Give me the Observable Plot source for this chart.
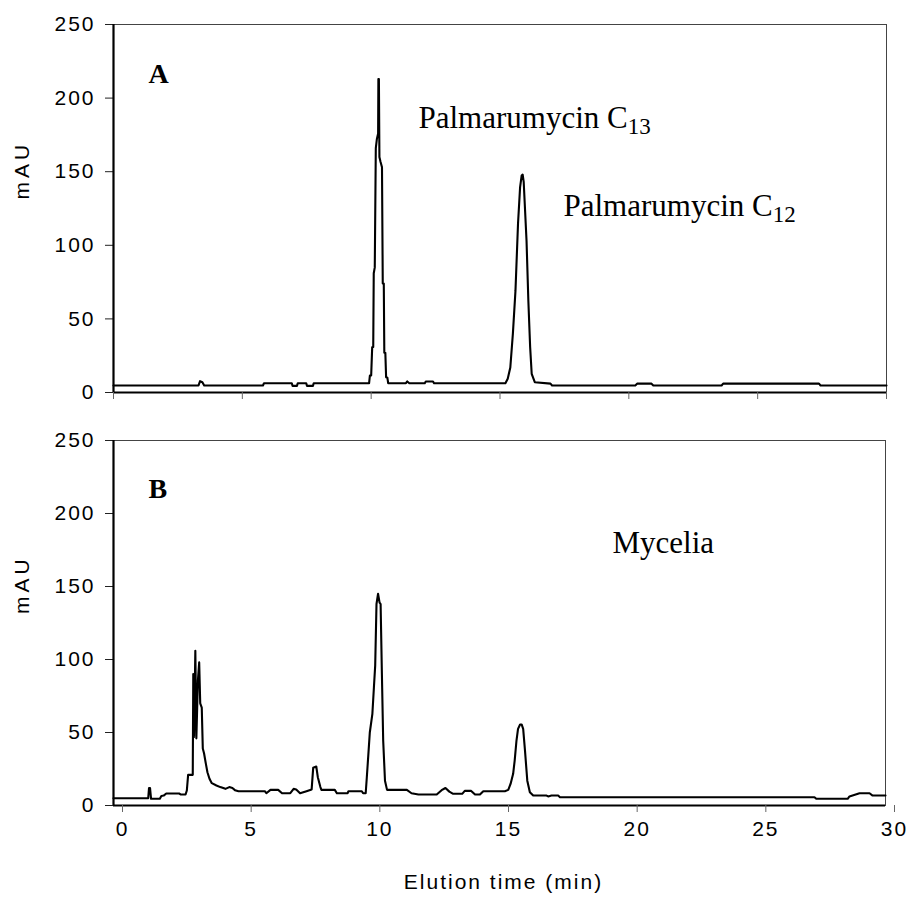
<!DOCTYPE html>
<html><head><meta charset="utf-8">
<script src="https://cdn.jsdelivr.net/npm/d3@7"></script>
<script src="https://cdn.jsdelivr.net/npm/@observablehq/plot@0.6"></script>
<style>
body{margin:0;background:#fff;}
#chart{position:relative;width:909px;height:904px;background:#fff;}
#chart svg{position:absolute;left:0;}
</style></head><body><div id="chart"></div>
<script>
// Panel A: standard (Palmarumycin C13 / C12)
const timeA = [0,3.30,3.36,3.45,3.52,5.80,5.84,6.92,6.95,7.12,7.15,7.48,7.51,7.74,7.77,9.92,9.95,10.00,10.04,10.08,10.10,10.14,10.18,10.22,10.27,10.28,10.30,10.32,10.36,10.42,10.45,10.49,10.51,10.55,10.58,10.63,10.66,11.35,11.40,11.48,12.08,12.12,12.40,12.44,15.21,15.30,15.40,15.50,15.60,15.70,15.78,15.84,15.88,15.92,16.03,16.10,16.17,16.23,16.35,16.96,17.02,20.25,20.32,20.88,20.95,23.60,23.66,27.38,27.44,30];
const mauA  = [4.8,4.8,7.7,7.0,4.8,4.8,6.3,6.3,4.5,4.5,6.3,6.3,4.5,4.5,6.3,6.3,11.5,11.5,30.8,31,81,85,166,172,176,213,213,160,157,153,74,74,27,27,10.4,10,6.3,6.3,7.5,6.3,6.3,7.5,7.5,6.3,6.3,9.3,17,40,69,115,139.5,147.4,148,143,103,62.5,30.8,12.7,7,6,4.8,4.8,6,6,4.8,4.8,6,6,4.8,4.8];
// Panel B: mycelia extract
const timeB = [0,1.35,1.38,1.42,1.46,1.80,1.86,1.95,2.05,2.55,2.62,2.80,2.85,2.90,3.08,3.10,3.13,3.18,3.22,3.28,3.33,3.37,3.43,3.47,3.52,3.59,3.65,3.73,3.82,4.00,4.15,4.35,4.50,4.62,4.72,4.86,5.88,5.94,6.10,6.40,6.55,6.87,7.00,7.10,7.25,7.50,7.70,7.76,7.88,7.94,8.04,8.08,8.60,8.68,9.10,9.13,9.65,9.70,9.80,9.84,9.90,9.96,10.06,10.12,10.17,10.22,10.28,10.34,10.38,10.43,10.48,10.55,10.63,11.40,11.58,11.85,12.56,12.75,12.90,13.05,13.20,13.55,13.65,13.90,14.05,14.24,14.37,15.21,15.34,15.43,15.53,15.59,15.66,15.72,15.80,15.86,15.92,15.99,16.08,16.18,16.31,16.83,16.89,17.02,17.28,17.35,27.24,27.31,28.53,28.60,28.99,29.38,29.50,30];
const mauB  = [5,5,12,12,4.6,4.6,6.5,6.8,8.2,8.2,7.5,7.5,10.3,21,21,90,47,106,46,85.6,98,70,67,39,35.6,28.5,22.8,18.3,15.3,13.7,12.6,11.4,12.6,12.0,10.5,9.8,9.8,8.4,10.7,10.7,8.4,8.4,11.4,11,8.4,9.8,11,25.8,26.7,19.4,12.6,10.7,10.7,8.4,8.4,9.8,9.8,8.4,8.4,18.3,34,50,62.8,81,96,138,145,139,138,90,44.5,17,10.7,10.7,8.4,7.5,7.5,10.5,12,9.5,8,8,10,10,7.5,7.5,9.8,9.8,10.7,14.8,21.7,30.8,44.5,52.5,55.5,55.5,52.5,37.7,17,9.1,6.8,6.8,6.2,6.8,6.8,5.7,5.7,4.6,4.6,6.2,8.4,8.4,6.8,6.8];

const xTicks = [0,5,10,15,20,25,30];
const yTicks = [0,50,100,150,200,250];
const panelLabels = ["A","B"];
const yLabel = "mAU";
const xLabel = "Elution time (min)";
const annotationsA = ["Palmarumycin C_13","Palmarumycin C_12"];
const annotationsB = ["Mycelia"];

const sans = "'Liberation Sans', Arial, sans-serif";
const serif = "'Liberation Serif', 'Times New Roman', serif";

function annot(label, dx, dy, bold, size) {
  return Plot.text([label], {text: d => d, frameAnchor: "top-left", dx, dy, textAnchor: "start", lineAnchor: "bottom",
    fontFamily: serif, fontWeight: bold ? "bold" : "normal", fontSize: size, fill: "black"});
}

function common(time, mau) {
  return [
    Plot.frame({stroke: "#444", strokeWidth: 1}),
    Plot.axisY({ticks: yTicks, tickSize: 8, tickPadding: 10, fontSize: 21, label: null, stroke: "#222"}),
    Plot.ruleX([0], {stroke: "black", strokeWidth: 2.2}),
    Plot.ruleY([0], {stroke: "black", strokeWidth: 2.2}),
    Plot.line(time, {x: time, y: mau, stroke: "black", strokeWidth: 2.1}),
    Plot.text([yLabel], {text: d => d, frameAnchor: "left", dx: -91, dy: -9, rotate: -90, fontSize: 21, fontFamily: sans, fill: "black"})
  ];
}

const plotA = Plot.plot({
  width: 909, height: 412,
  marginLeft: 113, marginRight: 23, marginTop: 24, marginBottom: 20,
  x: {domain: [0, 30]}, y: {domain: [0, 250]},
  style: {fontFamily: sans, fontSize: "21px", color: "black", background: "white"},
  marks: [
    ...common(timeA, mauA),
    Plot.axisX({ticks: xTicks, tickSize: 7, tickFormat: () => "", label: null, stroke: "#666"}),
    annot(panelLabels[0], 35, 58, true, 28),
    annot(annotationsA[0], 305, 103, false, 31),
    annot(annotationsA[1], 450, 191, false, 31)
  ]
});

const plotB = Plot.plot({
  width: 909, height: 492,
  marginLeft: 113, marginRight: 24, marginTop: 28, marginBottom: 99,
  x: {domain: [0, 30]}, y: {domain: [0, 250]},
  style: {fontFamily: sans, fontSize: "21px", color: "black", background: "white"},
  marks: [
    ...common(timeB, mauB),
    Plot.axisX({ticks: xTicks, tickSize: 7, tickPadding: 9, dx: 9, fontSize: 21, label: null, stroke: "#666"}),
    Plot.text([xLabel], {text: d => d, frameAnchor: "bottom", dx: 4, dy: 83, fontSize: 21, fontFamily: sans, fill: "black"}),
    annot(panelLabels[1], 35, 57, true, 28),
    annot(annotationsB[0], 499, 112, false, 31)
  ]
});

function finish(svg) {
  svg.querySelectorAll('g[aria-label="y-axis tick label"] text, g[aria-label="x-axis tick label"] text')
    .forEach(t => t.style.letterSpacing = "2px");
  svg.querySelectorAll("text").forEach(t => {
    const s = t.textContent;
    if (s === xLabel) t.style.letterSpacing = "2px";
    if (s === yLabel) t.style.letterSpacing = "4px";
    if (s.includes("_")) {
      const [main, sub] = s.split("_");
      t.textContent = main;
      const ts = document.createElementNS("http://www.w3.org/2000/svg", "tspan");
      ts.textContent = sub;
      ts.setAttribute("font-size", "23");
      ts.setAttribute("dy", "6");
      t.appendChild(ts);
    }
  });
}
finish(plotA); finish(plotB);
plotA.style.top = "0px";
plotB.style.top = "412px";
const chart = document.getElementById("chart");
chart.appendChild(plotA);
chart.appendChild(plotB);
</script></body></html>
